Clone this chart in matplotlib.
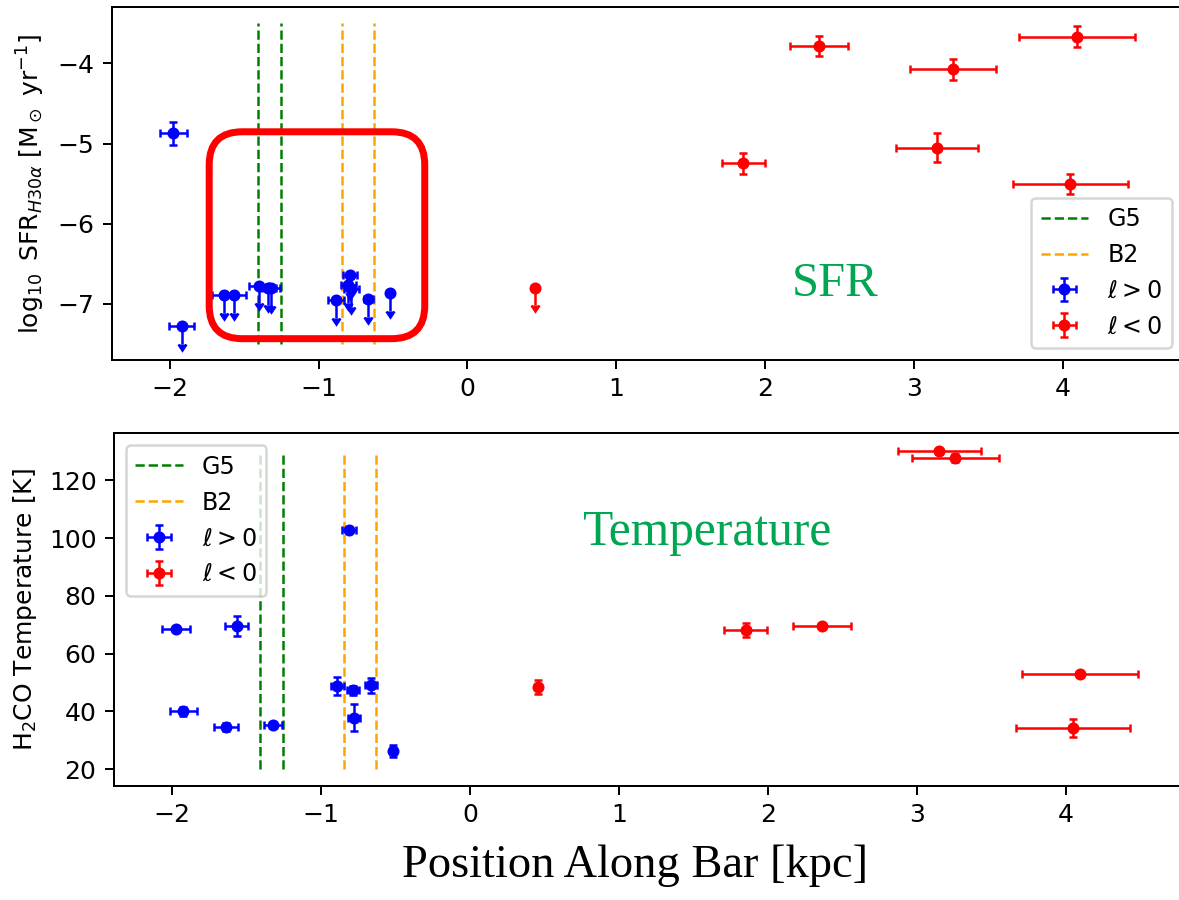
import numpy as np
import matplotlib
matplotlib.use("Agg")
import matplotlib.pyplot as plt
from matplotlib.patches import FancyBboxPatch

# ---- data -------------------------------------------------------------
# l < 0 sources (shared between both panels)
red_pos = [0.455, 1.853, 2.364, 3.153, 3.260, 4.050, 4.096]
red_pos_err = [0.02, 0.144, 0.195, 0.276, 0.290, 0.385, 0.390]
red_sfr = [-6.80, -5.247, -3.784, -5.052, -4.075, -5.505, -3.668]
red_sfr_err = [0.22, 0.13, 0.125, 0.18, 0.13, 0.13, 0.13]
red_sfr_uplim = [True, False, False, False, False, False, False]
red_temp = [48.5, 68.3, 69.6, 130.0, 127.7, 34.3, 52.8]
red_temp_err = [2.5, 2.5, 1.0, 1.0, 1.5, 3.2, 1.0]

# l > 0 sources, star formation rate panel
blue_sfr_pos = [-1.975, -1.921, -1.635, -1.568, -1.400, -1.343, -1.321,
                -0.885, -0.790, -0.800, -0.780, -0.668, -0.520]
blue_sfr_pos_err = [0.09, 0.087, 0.08, 0.08, 0.07, 0.06, 0.06,
                    0.054, 0.045, 0.05, 0.05, 0.03, 0.01]
blue_sfr = [-4.873, -7.276, -6.889, -6.889, -6.773, -6.798, -6.806,
            -6.951, -6.640, -6.770, -6.820, -6.943, -6.868]
blue_sfr_err = [0.145, 0.22, 0.22, 0.22, 0.22, 0.22, 0.22,
                0.22, 0.22, 0.22, 0.22, 0.22, 0.22]
blue_sfr_uplim = [False, True, True, True, True, True, True,
                  True, True, True, True, True, True]

# l > 0 sources, temperature panel
blue_temp_pos = [-1.975, -1.567, -1.925, -1.639, -1.325, -0.811,
                 -0.891, -0.788, -0.667, -0.777, -0.519]
blue_temp_pos_err = [0.094, 0.078, 0.09, 0.08, 0.06, 0.047,
                     0.045, 0.04, 0.04, 0.04, 0.02]
blue_temp = [68.4, 69.6, 40.1, 34.6, 35.2, 102.7,
             48.8, 47.3, 49.0, 37.9, 26.3]
blue_temp_err = [1.0, 3.4, 1.5, 1.5, 1.0, 1.0,
                 3.2, 1.5, 2.7, 4.8, 2.0]

# reference positions of the G5 and B2 features
g5_pos = [-1.410, -1.255]
b2_pos = [-0.845, -0.628]

# ---- figure -----------------------------------------------------------
W, H, DPI = 1179, 900, 180
fig = plt.figure(figsize=(W / DPI, H / DPI), dpi=DPI)
ax1 = fig.add_axes([111.7 / W, 1 - 360 / H, (1183.5 - 111.7) / W, (360 - 7.3) / H])
ax2 = fig.add_axes([114 / W, 1 - 786 / H, (1186.2 - 114) / W, (786 - 433.3) / H])

eb_kw = dict(fmt="o", ms=3.8, elinewidth=1.0, capsize=1.5, capthick=1.0)
serif = "Liberation Serif"
label_green = "#00a651"
legend_kw = dict(fontsize=9.5)

# top: star formation rate
ax1.vlines(g5_pos, -7.5, -3.5, colors="green", linestyles="--", lw=1.0, label="G5")
ax1.vlines(b2_pos, -7.5, -3.5, colors="orange", linestyles="--", lw=1.0, label="B2")
ax1.errorbar(blue_sfr_pos, blue_sfr, xerr=blue_sfr_pos_err, yerr=blue_sfr_err,
             uplims=blue_sfr_uplim, color="blue", label=r"$\ell > 0$", **eb_kw)
ax1.errorbar(red_pos, red_sfr, xerr=red_pos_err, yerr=red_sfr_err,
             uplims=red_sfr_uplim, color="red", label=r"$\ell < 0$", **eb_kw)
ax1.set_xlim(-2.39, 4.81)
ax1.set_ylim(-7.70, -3.30)
ax1.set_ylabel(r"$\log_{10}$ SFR$_{H30\alpha}$ [M$_\odot$ yr$^{-1}$]")
ax1.legend(loc="lower right", **legend_kw)
ax1.text(0.675, 0.181, "SFR", transform=ax1.transAxes, ha="center",
         va="baseline", color=label_green, fontsize=19.5, family=serif)

# highlighted group of upper limits
box_x = (-1.735, -0.287)
box_y = (-7.434, -4.853)
p = ax1.transData.transform([[0, 0], [1, 1]])
px_x, px_y = p[1, 0] - p[0, 0], p[1, 1] - p[0, 1]
box = FancyBboxPatch((box_x[0], box_y[0]), box_x[1] - box_x[0], box_y[1] - box_y[0],
                     boxstyle=f"round,pad=0,rounding_size={33 / px_x}",
                     mutation_aspect=px_x / px_y, transform=ax1.transData,
                     fill=False, ec="red", lw=2.8, zorder=5)
ax1.add_patch(box)

# bottom: temperature
ax2.vlines(g5_pos, 20, 130, colors="green", linestyles="--", lw=1.0, label="G5")
ax2.vlines(b2_pos, 20, 130, colors="orange", linestyles="--", lw=1.0, label="B2")
ax2.errorbar(blue_temp_pos, blue_temp, xerr=blue_temp_pos_err, yerr=blue_temp_err,
             color="blue", label=r"$\ell > 0$", **eb_kw)
ax2.errorbar(red_pos, red_temp, xerr=red_pos_err, yerr=red_temp_err,
             color="red", label=r"$\ell < 0$", **eb_kw)
ax2.set_xlim(-2.39, 4.81)
ax2.set_ylim(14.2, 136.3)
ax2.set_ylabel(r"H$_2$CO Temperature [K]")
ax2.legend(loc="upper left", **legend_kw)
ax2.text(0.553, 0.683, "Temperature", transform=ax2.transAxes, ha="center",
         va="baseline", color=label_green, fontsize=19.8, family=serif)

fig.text(0.539, 1 - 876.7 / H, "Position Along Bar [kpc]", ha="center",
         va="baseline", fontsize=18.6, family=serif)

fig.savefig("out.png", dpi=DPI)
